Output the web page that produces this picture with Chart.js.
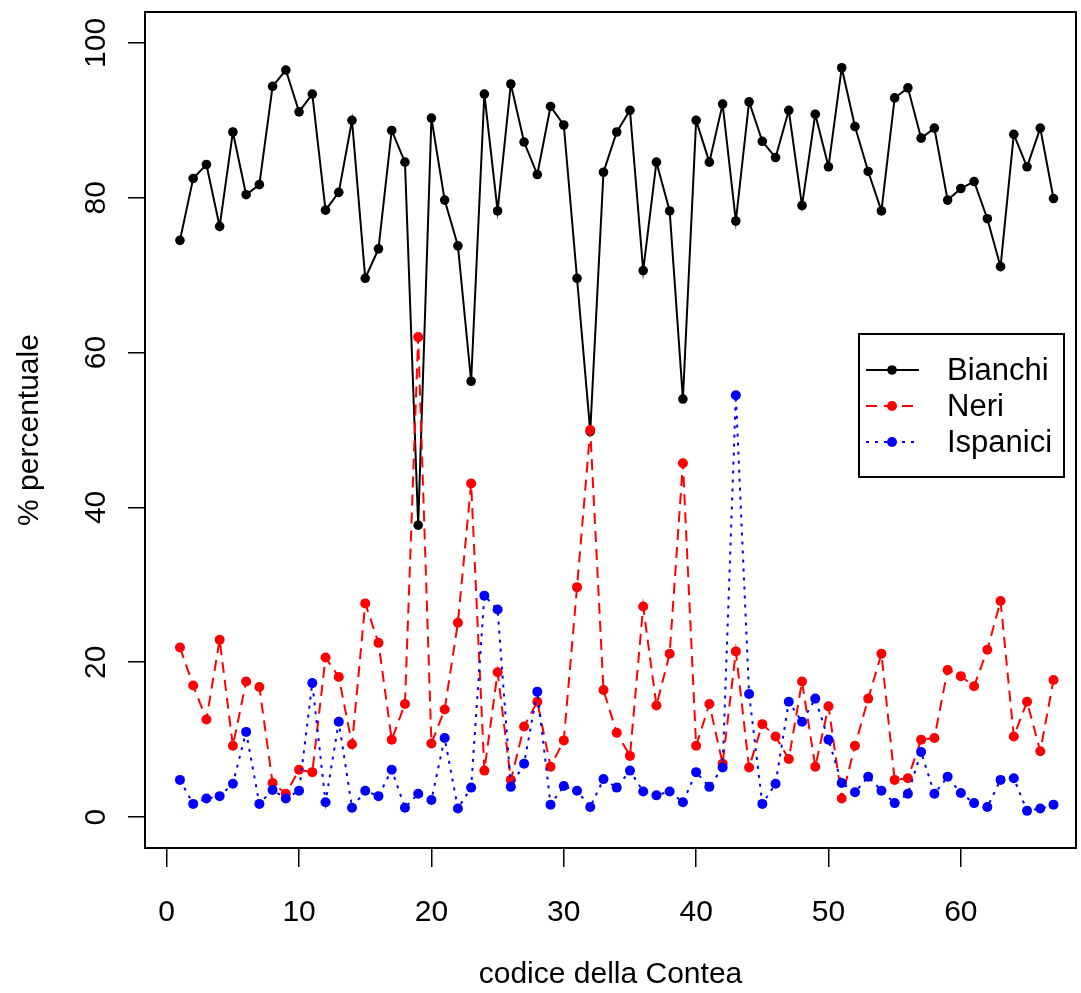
<!DOCTYPE html>
<html>
<head>
<meta charset="utf-8">
<script src="https://cdn.jsdelivr.net/npm/chart.js@4"></script>
<style>
  html, body { margin: 0; padding: 0; background: #fff; }
  #wrap { width: 1081px; height: 993px; }
</style>
</head>
<body>
<div id="wrap"><canvas id="grafico" width="1081" height="993"></canvas></div>
<script>
// codici delle contee (asse x)
const codici = [1, 2, 3, 4, 5, 6, 7, 8, 9, 10, 11, 12, 13, 14, 15, 16, 17, 18, 19, 20,
    21, 22, 23, 24, 25, 26, 27, 28, 29, 30, 31, 32, 33, 34, 35, 36, 37, 38, 39, 40,
    41, 42, 43, 44, 45, 46, 47, 48, 49, 50, 51, 52, 53, 54, 55, 56, 57, 58, 59, 60,
    61, 62, 63, 64, 65, 66, 67];

const bianchi = [74.5, 82.5, 84.3, 76.3, 88.5, 80.4, 81.7, 94.4, 96.5, 91.1,
    93.4, 78.4, 80.7, 90.0, 69.6, 73.4, 88.7, 84.6, 37.7, 90.3,
    79.7, 73.8, 56.3, 93.4, 78.3, 94.7, 87.2, 83.0, 91.8, 89.4,
    69.6, 49.8, 83.3, 88.5, 91.3, 70.6, 84.6, 78.3, 54.0, 90.0,
    84.6, 92.1, 77.0, 92.4, 87.3, 85.2, 91.3, 79.0, 90.8, 84.0,
    96.8, 89.2, 83.4, 78.3, 92.9, 94.2, 87.7, 89.0, 79.7, 81.2,
    82.1, 77.3, 71.1, 88.2, 84.0, 89.0, 79.9];

const neri = [21.9, 17.0, 12.6, 22.9, 9.2, 17.5, 16.8, 4.4, 3.0, 6.1,
    5.8, 20.6, 18.1, 9.4, 27.6, 22.5, 10.0, 14.6, 62.0, 9.5,
    13.9, 25.1, 43.1, 6.0, 18.7, 4.8, 11.7, 14.9, 6.5, 9.9,
    29.7, 50.0, 16.4, 10.9, 7.9, 27.2, 14.4, 21.1, 45.7, 9.2,
    14.6, 6.9, 21.4, 6.4, 12.0, 10.4, 7.5, 17.5, 6.5, 14.3,
    2.4, 9.2, 15.3, 21.1, 4.8, 5.0, 10.0, 10.2, 19.0, 18.2,
    16.9, 21.6, 27.9, 10.4, 14.9, 8.5, 17.7];

const ispanici = [4.8, 1.7, 2.4, 2.7, 4.3, 11.0, 1.7, 3.5, 2.4, 3.4,
    17.3, 1.9, 12.3, 1.2, 3.4, 2.7, 6.1, 1.2, 3.0, 2.2,
    10.2, 1.1, 3.8, 28.6, 26.8, 3.9, 6.9, 16.2, 1.6, 4.0,
    3.4, 1.3, 4.9, 3.8, 6.0, 3.3, 2.8, 3.3, 1.9, 5.8,
    3.9, 6.4, 54.5, 15.9, 1.7, 4.3, 14.9, 12.3, 15.3, 10.0,
    4.4, 3.2, 5.2, 3.4, 1.8, 3.0, 8.4, 3.0, 5.2, 3.1,
    1.8, 1.3, 4.8, 5.0, 0.8, 1.1, 1.6];

const tickX = [0, 10, 20, 30, 40, 50, 60];
const tickY = [0, 20, 40, 60, 80, 100];

const serie = ['Bianchi', 'Neri', 'Ispanici'];
const colori = ['#000000', '#ff0000', '#0000ff'];

const FONT = "'Liberation Sans', Arial, Helvetica, sans-serif";
Chart.defaults.font.family = FONT;
Chart.defaults.color = '#000';

function punti(valori) {
    return codici.map((c, i) => ({x: c, y: valori[i]}));
}

// cornice attorno all'area del grafico (stile R)
const cornice = {
    id: 'cornice',
    afterDatasetsDraw(chart) {
        const a = chart.chartArea;
        const ctx = chart.ctx;
        ctx.save();
        ctx.strokeStyle = '#000';
        ctx.lineWidth = 2;
        ctx.strokeRect(a.left, a.top, a.right - a.left, a.bottom - a.top);
        ctx.restore();
    }
};

// legenda dentro l'area del grafico
const legenda = {
    id: 'legenda',
    afterDraw(chart) {
        const ctx = chart.ctx;
        const x0 = 859, y0 = 334, w = 205, h = 143;
        ctx.save();
        ctx.fillStyle = '#fff';
        ctx.fillRect(x0, y0, w, h);
        ctx.strokeStyle = '#000';
        ctx.lineWidth = 2;
        ctx.strokeRect(x0, y0, w, h);
        chart.data.datasets.forEach((ds, i) => {
            const y = 370 + i * 36;
            ctx.strokeStyle = ds.borderColor;
            ctx.lineWidth = 2;
            ctx.setLineDash(ds.borderDash || []);
            ctx.beginPath();
            ctx.moveTo(866, y);
            ctx.lineTo(919, y);
            ctx.stroke();
            ctx.setLineDash([]);
            ctx.fillStyle = ds.borderColor;
            ctx.beginPath();
            ctx.arc(892, y, ds.pointRadius, 0, Math.PI * 2);
            ctx.fill();
            ctx.fillStyle = '#000';
            ctx.font = '31px ' + FONT;
            ctx.textAlign = 'left';
            ctx.textBaseline = 'middle';
            ctx.fillText(ds.label, 947, y + 1);
        });
        ctx.restore();
    }
};

const ctx = document.getElementById('grafico');

new Chart(ctx, {
    type: 'line',
    data: {
        datasets: [{
                label: serie[0],
                data: punti(bianchi),
                borderColor: colori[0],
                backgroundColor: colori[0],
                borderWidth: 2,
                pointRadius: 4.8,
                pointBorderWidth: 0,
                order: 3
            }, {
                label: serie[1],
                data: punti(neri),
                borderColor: colori[1],
                backgroundColor: colori[1],
                borderWidth: 2,
                borderDash: [11, 7],
                pointRadius: 5,
                pointBorderWidth: 0,
                order: 2
            }, {
                label: serie[2],
                data: punti(ispanici),
                borderColor: colori[2],
                backgroundColor: colori[2],
                borderWidth: 2,
                borderDash: [3, 6],
                pointRadius: 5,
                pointBorderWidth: 0,
                order: 1
            }]
    },
    options: {
        responsive: false,
        animation: false,
        events: [],
        layout: {padding: {top: 12, right: 3, left: 0, bottom: 0}},
        plugins: {
            legend: {display: false},
            tooltip: {enabled: false}
        },
        scales: {
            x: {
                type: 'linear',
                min: -1.64,
                max: 68.7,
                afterBuildTicks: s => { s.ticks = tickX.map(v => ({value: v})); },
                afterFit: s => { s.height = 145; s.paddingLeft = 0; s.paddingRight = 0; },
                grid: {drawOnChartArea: false, drawTicks: true, tickLength: 19, color: '#000', lineWidth: 1.5},
                border: {display: true, color: '#000', width: 2},
                ticks: {font: {size: 30}, padding: 28, maxRotation: 0, color: '#000'},
                title: {display: true, text: 'codice della Contea', font: {size: 30}, padding: {top: 0, bottom: 0}, color: '#000'}
            },
            y: {
                type: 'linear',
                min: -4,
                max: 104,
                afterBuildTicks: s => { s.ticks = tickY.map(v => ({value: v})); },
                afterFit: s => { s.width = 145; s.paddingTop = 0; s.paddingBottom = 0; },
                grid: {drawOnChartArea: false, drawTicks: true, tickLength: 17, color: '#000', lineWidth: 1.5},
                border: {display: true, color: '#000', width: 2},
                ticks: {font: {size: 30}, padding: 6, minRotation: 90, maxRotation: 90, crossAlign: 'center', color: '#000'},
                title: {display: true, text: '% percentuale', font: {size: 30}, padding: {top: 12, bottom: 0}, color: '#000'}
            }
        }
    },
    plugins: [cornice, legenda]
});
</script>
</body>
</html>
